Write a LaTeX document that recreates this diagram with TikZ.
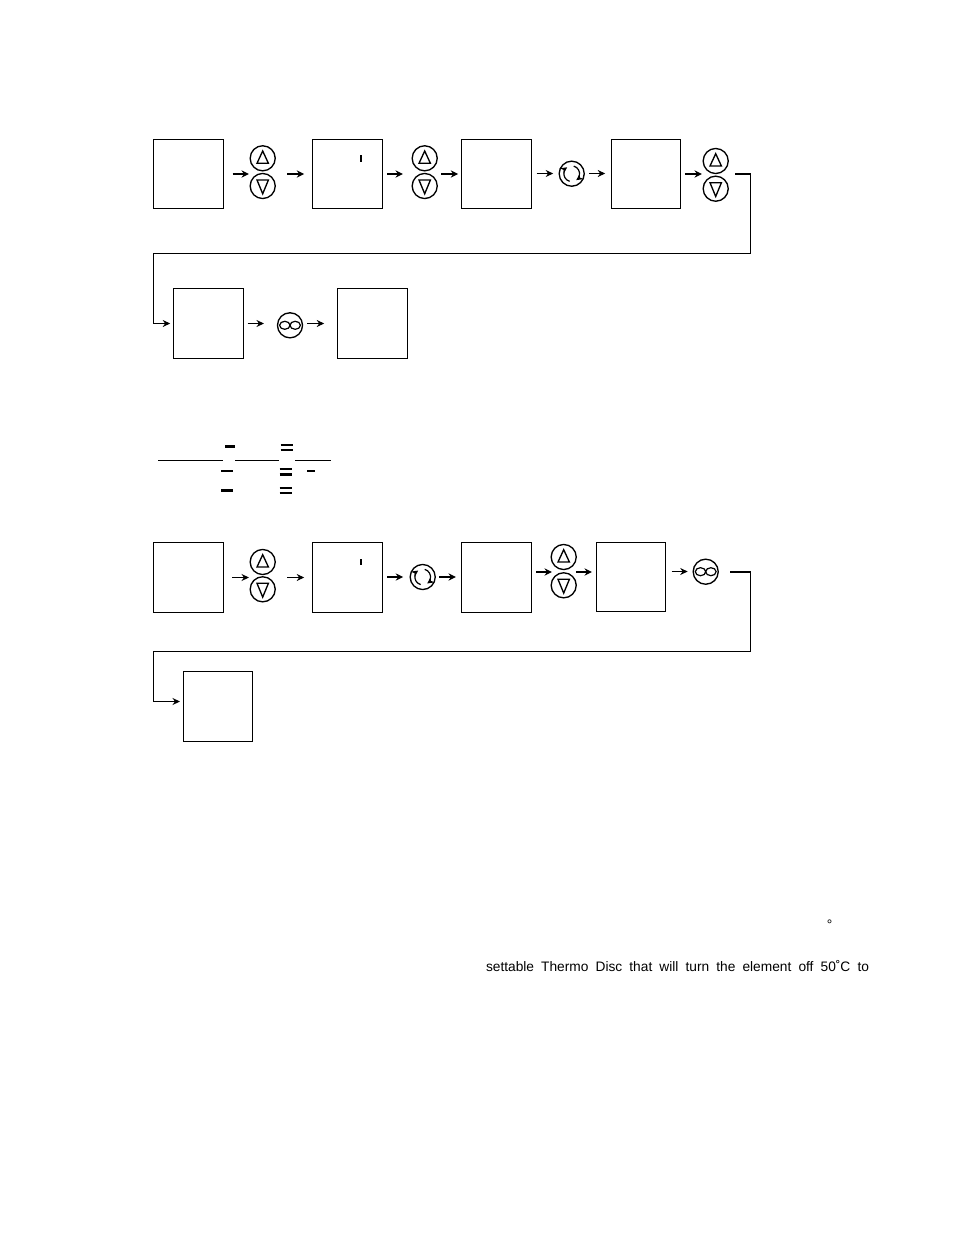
\documentclass[tikz,border=0pt]{standalone}
\usepackage{fontspec}
\setmainfont{Liberation Sans}
\usetikzlibrary{arrows.meta}
\tikzset{
  x=0.75pt,y=-0.75pt,
  panel/.style 2 args={draw,line width=0.8pt,inner sep=0pt,outer sep=0pt,minimum width=#1*0.75pt,minimum height=#2*0.75pt},
  btn/.style={draw,circle,line width=1pt,inner sep=0pt,outer sep=0pt,minimum size=18.8pt},
  thinarrow/.style={line width=0.8pt,-{Stealth[length=5.6pt,width=5.2pt]}},
  thickarrow/.style={line width=1.4pt,-{Stealth[length=5.6pt,width=5.4pt]}},
  route/.style={line width=0.8pt,-{Stealth[length=5.6pt,width=5.2pt]}},
  thicktri/.style={line width=1pt,line join=miter},
  rule/.style={line width=0.8pt},
  dashthin/.style={line width=1.2pt},
  dashthick/.style={line width=1.8pt},
  txt/.style={inner sep=0pt,outer sep=0pt,font=\fontsize{10.3pt}{12pt}\selectfont},
}
% up/down button pair: name, x, y of up, y of down
\newcommand\pairbtn[4]{%
  \node[btn] (#1u) at (#2,#3) {};
  \node[btn] (#1d) at (#2,#4) {};
  \draw[thicktri,shift={(#1u.center)}] (-5.7,5) -- (5.7,5) -- (0,-7.3) -- cycle;
  \draw[thicktri,shift={(#1d.center)}] (-5.7,-6) -- (5.7,-6) -- (0,7.8) -- cycle;
}
\newcommand\refreshbtn[3]{%
  \node[btn] (#1) at (#2,#3) {};
  \draw[line width=0.9pt,-{Stealth[length=5pt,width=5pt]}] ([shift={(255:5.9pt)}]#1.center) arc[start angle=255,end angle=125,radius=5.9pt];
  \draw[line width=0.9pt,-{Stealth[length=5pt,width=5pt]}] ([shift={(75:5.9pt)}]#1.center) arc[start angle=75,end angle=-55,radius=5.9pt];
}
\newcommand\infbtn[3]{%
  \node[btn] (#1) at (#2,#3) {};
  \draw[line width=0.9pt,shift={(#1.center)}] (-5.2,0) ellipse[x radius=5.2,y radius=4] (5.2,0) ellipse[x radius=5.2,y radius=4];
}
% horizontal connector: style, from anchor, to anchor, gap at start, gap at end (px)
\newcommand\conn[5]{\draw[#1,shorten <=#4*0.75pt,shorten >=#5*0.75pt] (#2) -- (#3);}
\begin{document}
\begin{tikzpicture}
\useasboundingbox (0,0) rectangle (954,1235);
% first sequence
\node[panel={70}{69}] (a1) at (188.5,174) {};
\node[panel={70}{69}] (a2) at (347.5,174) {};
\node[panel={70}{69}] (a3) at (496.5,174) {};
\node[panel={69}{69}] (a4) at (646,174) {};
\node[panel={70}{70}] (a5) at (208.5,323.5) {};
\node[panel={70}{70}] (a6) at (372.5,323.5) {};
\pairbtn{p1}{262.7}{158.3}{186}
\pairbtn{p2}{424.7}{158.3}{186}
\pairbtn{p3}{715.7}{161}{188.7}
\refreshbtn{r1}{571.7}{173.7}
\infbtn{i1}{290}{325.3}
\coordinate (c1) at (262.7,174);
\coordinate (c2) at (424.7,174);
\coordinate (c3) at (715.7,174);
\coordinate (k1) at (531.5,173.5);
\coordinate (k2) at (611.5,173.5);
\conn{thickarrow}{a1.east}{c1}{9}{13.7}
\conn{thickarrow}{c1}{a2.west}{24.3}{8.3}
\conn{thickarrow}{a2.east}{c2}{4.5}{21.7}
\conn{thickarrow}{c2}{a3.west}{16.3}{3.3}
\conn{thinarrow}{k1}{r1.west |- k1}{5}{6}
\conn{thinarrow}{r1.east |- k2}{k2}{5}{6.3}
\conn{thickarrow}{a4.east}{c3}{4.3}{13.7}
\coordinate (t1) at (750.5,174);
\coordinate (t2) at (750.5,253.5);
\coordinate (t3) at (153.5,253.5);
\draw[line width=1.4pt,shorten <=19.3*0.75pt] (p3u.center |- t1) -- (t1);
\draw[route] (t1) -- (t2) -- (t3) -- (t3 |- a5.west) -- ([xshift=-3.3*0.75pt]a5.west);
\conn{thinarrow}{a5.east}{i1.west |- a5.east}{4.2}{13.5}
\conn{thinarrow}{i1.east |- a6.west}{a6.west}{4.5}{13.3}
\draw[line width=1.1pt] (361,155) -- (361,162);
% rule lines and dashes
\coordinate (m1) at (158.3,460.5);
\coordinate (m2) at (222.7,460.5);
\coordinate (m3) at (235.3,460.5);
\coordinate (m4) at (278.7,460.5);
\coordinate (m5) at (295,460.5);
\coordinate (m6) at (331,460.5);
\draw[rule] (m1) -- (m2) (m3) -- (m4) (m5) -- (m6);
\draw[dashthick] (225,446.3) -- (235,446.3);
\draw[dashthin] (221,470.7) -- (233,470.7);
\draw[dashthick] (221,490.3) -- (233,490.3);
\draw[dashthin] (280.5,444.7) -- (293,444.7) (280.5,450) -- (293,450);
\draw[dashthick] (279.5,469) -- (292,469) (279.5,474.3) -- (292,474.3);
\draw[dashthin] (279.5,487.7) -- (292,487.7) (279.5,493) -- (292,493);
\draw[dashthin] (307,470.7) -- (315,470.7);
% second sequence
\node[panel={70}{70}] (b1) at (188.5,577.5) {};
\node[panel={70}{70}] (b2) at (347.5,577.5) {};
\node[panel={70}{70}] (b3) at (496.5,577.5) {};
\node[panel={69}{69}] (b4) at (631,577) {};
\node[panel={69}{70}] (b5) at (218,706.5) {};
\pairbtn{q1}{262.7}{562}{589.3}
\pairbtn{q2}{563.7}{557}{585.3}
\refreshbtn{r2}{422.7}{577}
\infbtn{i2}{705.7}{571.7}
\coordinate (d1) at (262.7,577.5);
\coordinate (d2) at (563.7,572);
\coordinate (d3) at (705.7,571.5);
\coordinate (d4) at (382.5,577);
\coordinate (d5) at (461.5,577);
\conn{thinarrow}{b1.east}{d1}{8.5}{13.7}
\conn{thinarrow}{d1}{b2.west}{24.3}{8.3}
\conn{thickarrow}{d4}{r2.west |- d4}{4.5}{7}
\conn{thickarrow}{r2.east |- d5}{d5}{4}{5.5}
\conn{thickarrow}{b3.east |- d2}{d2}{4.5}{11.7}
\conn{thickarrow}{d2}{b4.west |- d2}{12.3}{4.5}
\conn{thinarrow}{b4.east |- d3}{d3}{6}{18}
\coordinate (u1) at (750.5,572);
\coordinate (u2) at (750.5,651.5);
\coordinate (u3) at (153.5,651.5);
\coordinate (u4) at (153.5,701.5);
\draw[line width=1.4pt,shorten <=24.3*0.75pt] (i2.center |- u1) -- (u1);
\draw[route] (u1) -- (u2) -- (u3) -- (u4) -- ([xshift=-3.5*0.75pt]b5.west |- u4);
\draw[line width=1.1pt] (361,559) -- (361,565);
% surviving text
\node[txt,anchor=base] (deg) at (829.5,929) {°};
\node[txt,anchor=base west] (para) at (486,971) {\makebox[287.25pt][s]{settable Thermo Disc that will turn the element off 50˚C to}};
\end{tikzpicture}
\end{document}
